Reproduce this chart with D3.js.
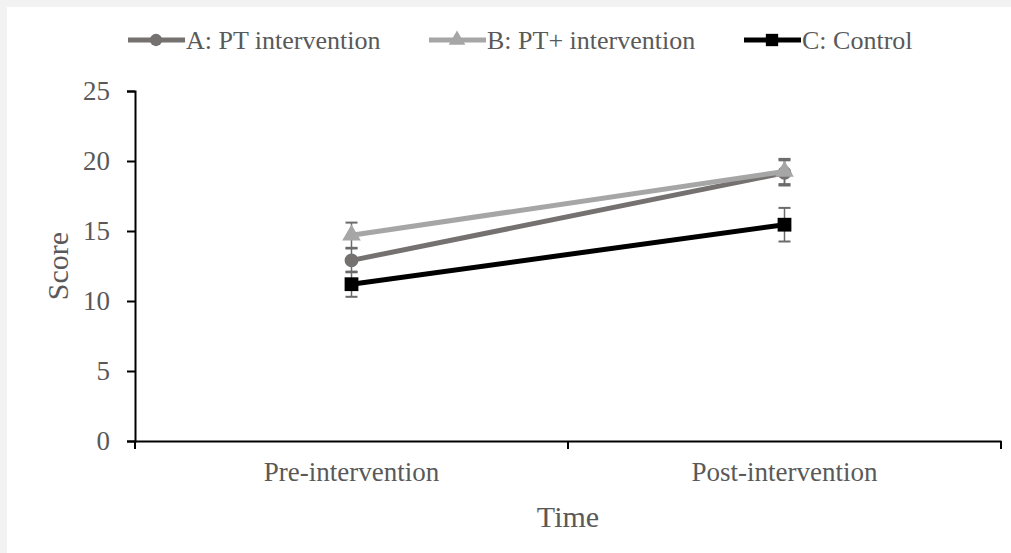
<!DOCTYPE html>
<html><head><meta charset="utf-8">
<script src="https://cdn.jsdelivr.net/npm/d3@7"></script>
<style>
html,body{margin:0;padding:0;background:#f2f2f2;}
svg{display:block;}
</style></head>
<body>
<svg id="chart" width="1011" height="553"></svg>
<script>
const categories = ["Pre-intervention", "Post-intervention"];
const seriesNames = ["A: PT intervention", "B: PT+ intervention", "C: Control"];
const valuesA = [12.9, 19.15];
const valuesB = [14.7, 19.25];
const valuesC = [11.2, 15.45];
const errA = [0.85, 0.9];
const errB = [0.9, 0.9];
const errC = [0.9, 1.2];
const yTicks = [0, 5, 10, 15, 20, 25];

(function () {
const colors = ["#767171", "#a6a6a6", "#000000"];
const markers = [d3.symbolCircle, d3.symbolTriangle, d3.symbolSquare];
const markerSizes = [150, 150, 190];
const series = [
  {name: seriesNames[0], values: valuesA, err: errA},
  {name: seriesNames[1], values: valuesB, err: errB},
  {name: seriesNames[2], values: valuesC, err: errC}
];

const svg = d3.select("#chart");
svg.append("rect").attr("x", 7).attr("y", 7).attr("width", 1004).attr("height", 546).attr("fill", "#fff");

const mLeft = 135, mRight = 1001, mTop = 91, mBottom = 441;
const x = d3.scaleBand().domain(categories).range([mLeft, mRight]);
const y = d3.scaleLinear().domain([0, 25]).range([mBottom, mTop]);
const font = "'Liberation Serif','Times New Roman',serif";
const textColor = "#595959";

// Y axis
const yAxis = svg.append("g").attr("transform", `translate(${mLeft},0)`)
  .call(d3.axisLeft(y).tickValues(yTicks).tickSize(8).tickPadding(17));
yAxis.select(".domain").attr("stroke", "#000").attr("stroke-width", 2);
yAxis.selectAll(".tick line").attr("stroke", "#000").attr("stroke-width", 2);
yAxis.selectAll(".tick text").attr("font-family", font).attr("font-size", 27).attr("fill", textColor);

// X axis
const xAxis = svg.append("g").attr("transform", `translate(0,${mBottom})`)
  .call(d3.axisBottom(x).tickSize(0).tickPadding(21));
xAxis.select(".domain").attr("stroke", "#000").attr("stroke-width", 2);
xAxis.selectAll(".tick text").attr("font-family", font).attr("font-size", 27).attr("fill", textColor);
const xTickPos = [mLeft, (mLeft + mRight) / 2, mRight];
xAxis.selectAll(".xt").data(xTickPos).enter().append("line")
  .attr("x1", d => d).attr("x2", d => d).attr("y1", 0).attr("y2", 8)
  .attr("stroke", "#000").attr("stroke-width", 2);

// Axis titles
svg.append("text").attr("x", (mLeft + mRight) / 2).attr("y", 527).attr("text-anchor", "middle")
  .attr("font-family", font).attr("font-size", 30).attr("fill", textColor).text("Time");
svg.append("text").attr("transform", `translate(68,${(mTop + mBottom) / 2}) rotate(-90)`).attr("text-anchor", "middle")
  .attr("font-family", font).attr("font-size", 30).attr("fill", textColor).text("Score");

const cx = c => x(c) + x.bandwidth() / 2;
const line = d3.line().x((d, i) => cx(categories[i])).y(d => y(d));

// Error bars
series.forEach((s, si) => {
  const g = svg.append("g");
  s.values.forEach((v, i) => {
    const px = cx(categories[i]);
    const e = s.err[i];
    g.append("line").attr("x1", px).attr("x2", px).attr("y1", y(v - e)).attr("y2", y(v + e))
      .attr("stroke", "#6b6b6b").attr("stroke-width", 1.5);
    [v - e, v + e].forEach(t => {
      g.append("line").attr("x1", px - 6).attr("x2", px + 6).attr("y1", y(t)).attr("y2", y(t))
        .attr("stroke", "#6b6b6b").attr("stroke-width", 2);
    });
  });
});

// Lines & markers
series.forEach((s, si) => {
  svg.append("path").datum(s.values).attr("d", line).attr("fill", "none")
    .attr("stroke", colors[si]).attr("stroke-width", 5);
  svg.append("g").selectAll("path").data(s.values).enter().append("path")
    .attr("transform", (d, i) => `translate(${cx(categories[i])},${y(d)})`)
    .attr("d", d3.symbol().type(markers[si]).size(markerSizes[si]))
    .attr("fill", colors[si]);
});

// Legend
const legendX = [128, 429, 744];
const legend = svg.append("g");
series.forEach((s, si) => {
  const g = legend.append("g").attr("transform", `translate(${legendX[si]},40)`);
  g.append("line").attr("x1", 0).attr("x2", 57).attr("y1", 0).attr("y2", 0)
    .attr("stroke", colors[si]).attr("stroke-width", 5);
  g.append("path").attr("transform", "translate(28,0)")
    .attr("d", d3.symbol().type(markers[si]).size(markerSizes[si] * 0.8)).attr("fill", colors[si]);
  g.append("text").attr("x", 58).attr("y", 9).attr("font-family", font).attr("font-size", 26)
    .attr("fill", textColor).text(s.name);
});
})();
</script>
</body></html>
